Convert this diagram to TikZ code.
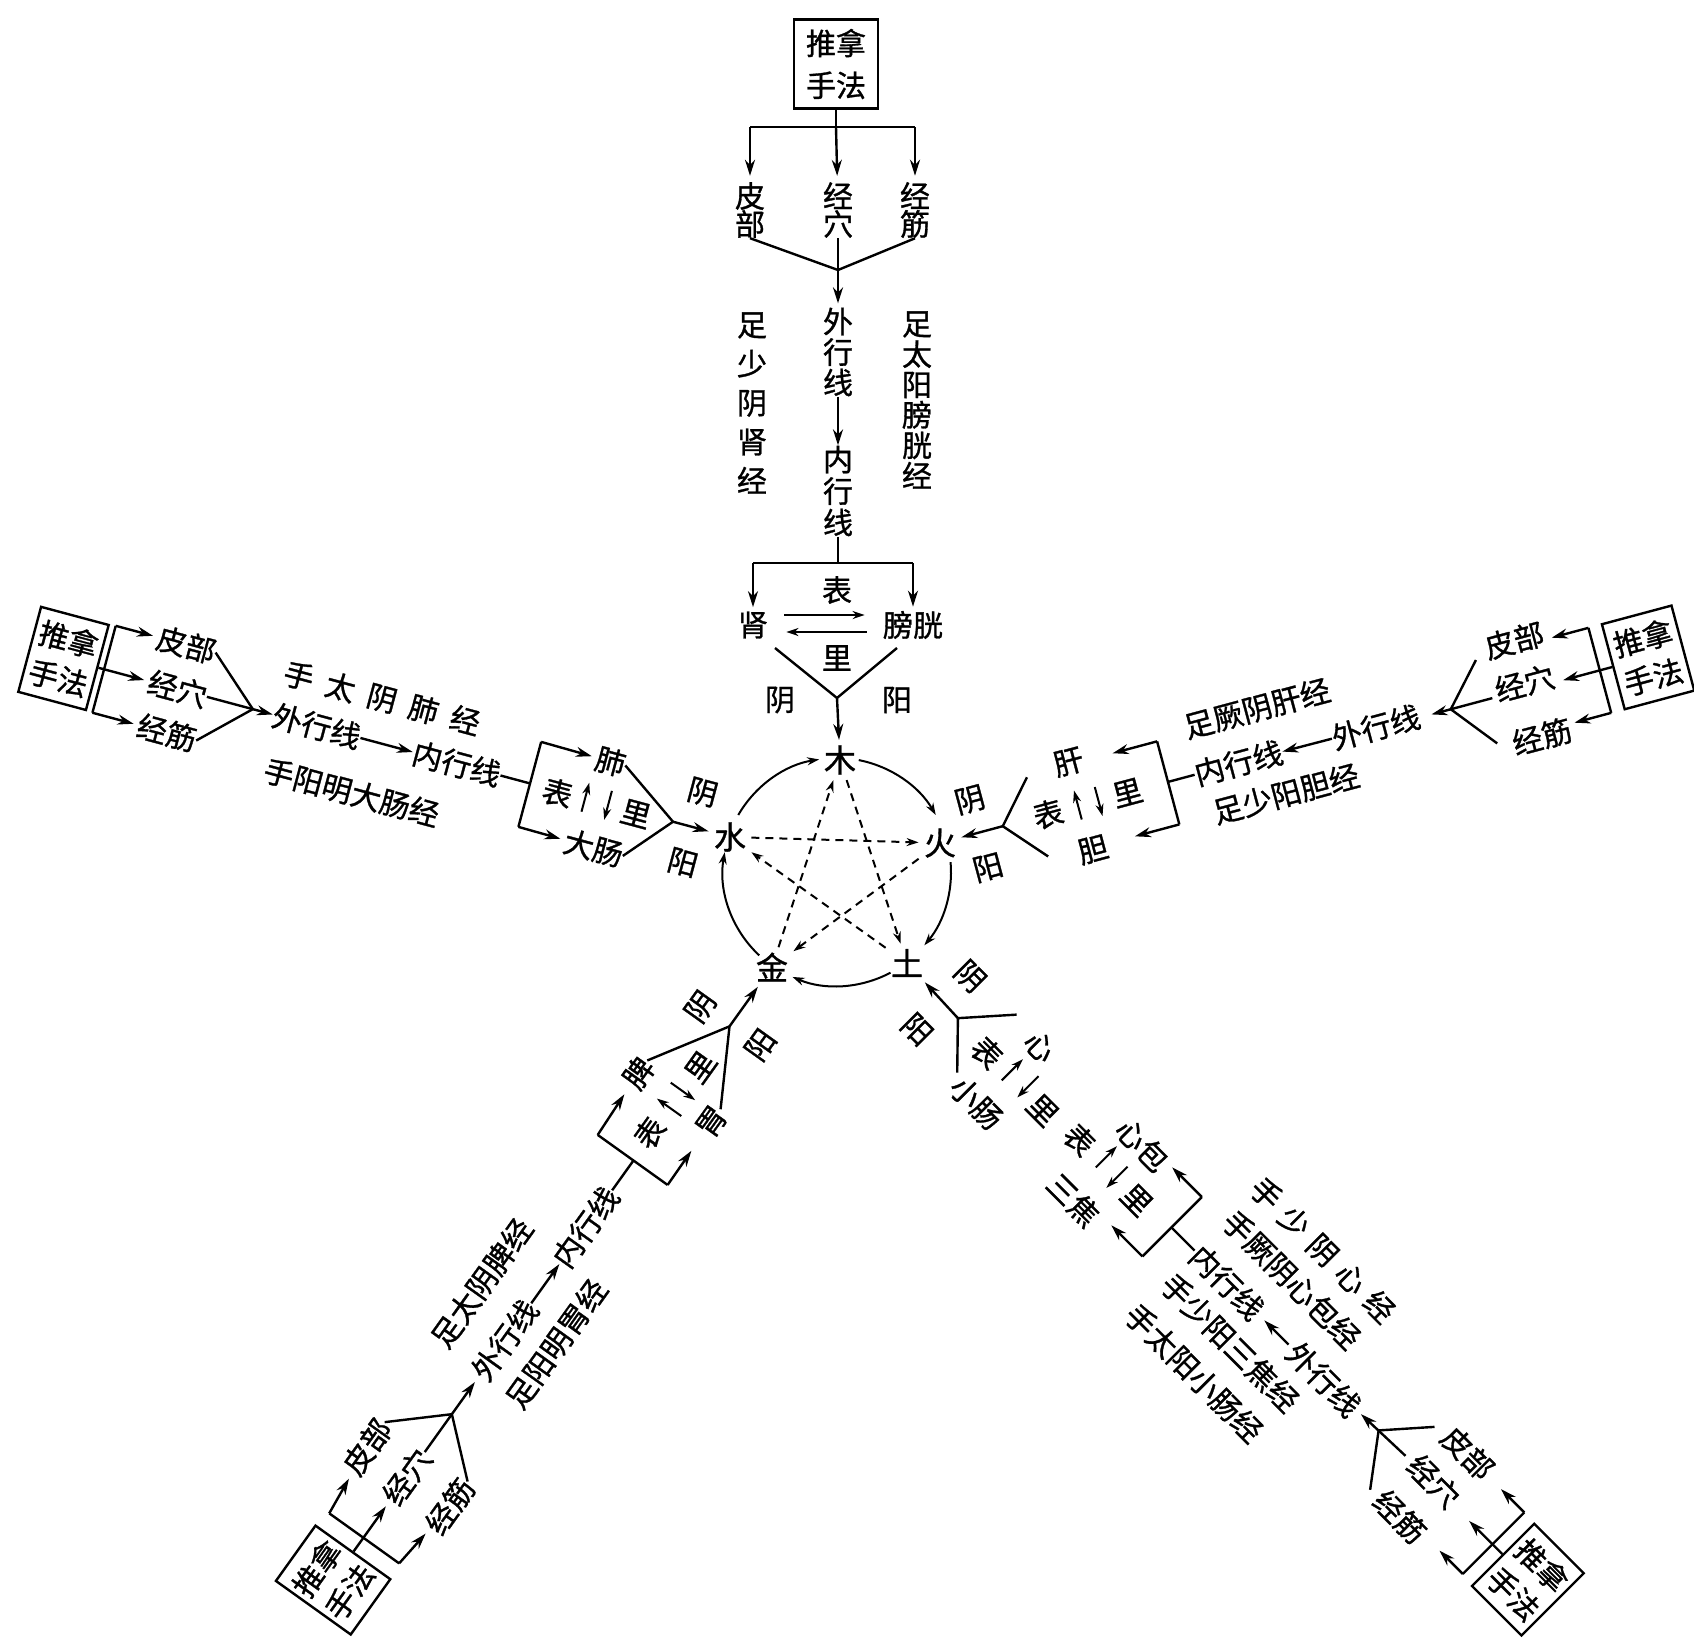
\documentclass[tikz,border=0pt]{standalone}
\usepackage{fontspec}
\newfontfamily\cjk[FakeBold=1]{Noto Sans CJK SC}
\usetikzlibrary{arrows.meta}
\begin{document}
\begin{tikzpicture}[x=0.5pt,y=0.5pt,
  every node/.style={inner sep=0pt,font=\cjk\fontsize{15}{15}\selectfont},
  ln/.style={line width=1.2pt},
  arr/.style={line width=1.2pt,-{Stealth[length=8pt,width=5pt]}},
  sarr/.style={line width=1pt,-{Stealth[length=6pt,width=4pt]}},
  dsh/.style={line width=1pt,dash pattern=on 4pt off 3pt,-{Stealth[length=6pt,width=4pt]}},
  sbox/.style={draw,line width=1.2pt,minimum width=35pt,minimum height=44pt,align=center,font=\cjk\fontsize{15}{20}\selectfont},
  el/.style={inner sep=2.5pt,font=\cjk\fontsize{16}{16}\selectfont},
  vt/.style={align=center,font=\cjk\fontsize{15}{14}\selectfont},
]
\useasboundingbox (0,0) rectangle (1694,-1639);

% ---------- centre: five elements ----------
\coordinate (C) at (837,-872);
\node[el] (mu) at (840,-760) {木};
\node[el] (huo) at (940,-843) {火};
\node[el] (tu) at (907,-963) {土};
\node[el] (jin) at (772,-967) {金};
\node[el] (shui) at (730,-837) {水};
\draw[sarr] (C) ++(150:114) arc[start angle=150,end angle=99,radius=114];
\draw[sarr] (C) ++(79:114) arc[start angle=79,end angle=30,radius=114];
\draw[sarr] (C) ++(5:114) arc[start angle=5,end angle=-40,radius=114];
\draw[sarr] (C) ++(-62:114) arc[start angle=-62,end angle=-113,radius=114];
\draw[sarr] (C) ++(-133:114) arc[start angle=-133,end angle=-190,radius=114];
\draw[dsh] (mu) -- (tu);
\draw[dsh] (tu) -- (shui);
\draw[dsh] (shui) -- (huo);
\draw[dsh] (huo) -- (jin);
\draw[dsh] (jin) -- (mu);

% ---------- top arm ----------
\node[sbox,minimum width=42pt,minimum height=44.5pt,font=\cjk\fontsize{15}{21}\selectfont] (tbox) at (836,-64) {推拿\\手法};
\coordinate (tstem) at (836,-127);
\coordinate (tbl) at (750,-127);
\coordinate (tbr) at (915,-127);
\draw[ln] (tbox.south) -- (tstem);
\draw[ln] (tbl) -- (tbr);
\node[vt] (tpb) at (750,-210) {皮\\部};
\node[vt] (tjx) at (838,-210) {经\\穴};
\node[vt] (tjj) at (915,-210) {经\\筋};
\draw[arr,shorten >=3pt] (tbl) -- (tpb);
\draw[arr,shorten >=3pt] (tstem) -- (tjx);
\draw[arr,shorten >=3pt] (tbr) -- (tjj);
\coordinate (tcv) at (838,-270);
\draw[ln] (tpb.south) -- (tcv) -- (tjj.south);
\node[vt,font=\cjk\fontsize{15}{15.25}\selectfont] (twai) at (838,-352) {外\\行\\线};
\node[vt,font=\cjk\fontsize{15}{15.75}\selectfont] (tnei) at (838,-491) {内\\行\\线};
\draw[arr,shorten >=2pt] (tjx) -- (twai);
\draw[arr] (twai) -- (tnei);
\node[vt,font=\cjk\fontsize{15}{19.5}\selectfont] (tm1) at (752,-403) {足\\少\\阴\\肾\\经};
\node[vt,font=\cjk\fontsize{15}{15.2}\selectfont] (tm2) at (917,-400) {足\\太\\阳\\膀\\胱\\经};
\coordinate (tsp) at (838,-563);
\coordinate (tsl) at (753,-563);
\coordinate (tsr) at (913,-563);
\draw[ln] (tnei) -- (tsp);
\draw[ln] (tsl) -- (tsr);
\node (tshen) at (753,-625) {肾};
\node (tpg) at (913,-625) {膀胱};
\draw[arr,shorten >=2pt] (tsl) -- (tshen);
\draw[arr,shorten >=2pt] (tsr) -- (tpg);
\node (tbiao) at (837,-590) {表};
\node (tli) at (837,-658) {里};
\draw[sarr,shorten <=8pt,shorten >=9pt] ([yshift=5pt]tshen.east) -- ([yshift=5pt]tpg.west);
\draw[sarr,shorten <=8pt,shorten >=9pt] ([yshift=-3.5pt]tpg.west) -- ([yshift=-3.5pt]tshen.east);
\coordinate (tv1) at (775,-648);
\coordinate (tv2) at (897,-648);
\coordinate (tva) at (837,-698);
\draw[ln] (tv1) -- (tva) -- (tv2);
\draw[arr] (tva) -- (mu);
\node (tyin) at (780,-700) {阴};
\node (tyang) at (897,-700) {阳};

% ---------- left arm (water) ----------
\begin{scope}[shift={(730,-837)},rotate=-15,transform shape]
\node[sbox] (Lbox) at (-690,0) {推拿\\手法};
\coordinate (Lb1) at (-648,45);
\coordinate (Lb0) at (-648,0);
\coordinate (Lb2) at (-648,-45);
\draw[ln] (Lb1) -- (Lb2);
\draw[ln] (Lbox.east) -- (Lb0);
\node (Lpb) at (-575,45) {皮部};
\node (Ljx) at (-572,0) {经穴};
\node (Ljj) at (-571,-45) {经筋};
\draw[arr,shorten >=2pt] (Lb1) -- (Lpb);
\draw[arr,shorten >=2pt] (Lb0) -- (Ljx);
\draw[arr,shorten >=2pt] (Lb2) -- (Ljj);
\coordinate (Lcv) at (-494,0);
\node (Lwai) at (-428,0) {外行线};
\node (Lnei) at (-283,0) {内行线};
\draw[ln] (Lpb.east) -- (Lcv) -- (Ljj.east);
\draw[arr] (Ljx) -- (Lwai);
\draw[arr] (Lwai) -- (Lnei);
\node (Lm1) at (-372,44) {手\hspace{6.5pt}太\hspace{6.5pt}阴\hspace{6.5pt}肺\hspace{6.5pt}经};
\node (Lm2) at (-377,-55) {手阳明大肠经};
\coordinate (Lk0) at (-207,0);
\coordinate (Lk1) at (-207,43);
\coordinate (Lk2) at (-207,-45);
\draw[ln] (Lnei) -- (Lk0);
\draw[ln] (Lk1) -- (Lk2);
\node (Lfei) at (-135,42) {肺};
\node (Ldc) at (-129,-46) {大肠};
\draw[arr,shorten >=2pt] (Lk1) -- (Lfei);
\draw[arr,shorten >=2pt] (Lk2) -- (Ldc);
\node (Lbiao) at (-178,-2) {表};
\node (Lli) at (-97,-2) {里};
\coordinate (Lu1) at (-150,-14); \coordinate (Lu2) at (-150,16);
\coordinate (Ld1) at (-126,14); \coordinate (Ld2) at (-126,-16);
\draw[sarr] (Lu1) -- (Lu2);
\draw[sarr] (Ld1) -- (Ld2);
\coordinate (Lv) at (-59,0);
\draw[ln] (Lfei.east) -- (Lv) -- (Ldc.east);
\draw[arr] (Lv) -- (shui);
\node (Lyin) at (-38,36) {阴};
\node (Lyang) at (-39,-37) {阳};
\end{scope}

% ---------- right arm (fire) ----------
\begin{scope}[shift={(940,-843)},rotate=15,transform shape]
\node[sbox,minimum width=36pt] (Rbox) at (732,-4) {推拿\\手法};
\coordinate (Rb1) at (682,40);
\coordinate (Rb0) at (682,-4);
\coordinate (Rb2) at (682,-48);
\draw[ln] (Rb1) -- (Rb2);
\draw[ln] (Rbox.west) -- (Rb0);
\node (Rpb) at (607,47) {皮部};
\node (Rjx) at (606,3) {经穴};
\node (Rjj) at (609,-53) {经筋};
\coordinate (Rt3) at (644,40);
\coordinate (Rt4) at (644,-4);
\coordinate (Rt5) at (644,-48);
\draw[arr] (Rb1) -- (Rt3);
\draw[arr] (Rb0) -- (Rt4);
\draw[arr] (Rb2) -- (Rt5);
\coordinate (Rcv) at (528,-3);
\coordinate (Rc1) at (565,38);
\coordinate (Rc0) at (571,-3);
\coordinate (Rc2) at (564,-48);
\coordinate (Rct) at (508,-3);
\draw[ln] (Rc1) -- (Rcv) -- (Rc2);
\draw[arr] (Rc0) -- (Rct);
\node (Rwai) at (451,-1) {外行线};
\node (Rnei) at (309,0) {内行线};
\draw[arr] (Rwai) -- (Rnei);
\node (Rm1) at (341,48) {足厥阴肝经};
\node (Rm2) at (347,-42) {足少阳胆经};
\coordinate (Rk0) at (236,0);
\coordinate (Rk1) at (236,42);
\coordinate (Rk2) at (236,-44);
\coordinate (Rt1) at (190,42);
\coordinate (Rt2) at (190,-44);
\draw[ln] (Rnei) -- (Rk0);
\draw[ln] (Rk1) -- (Rk2);
\draw[arr] (Rk1) -- (Rt1);
\draw[arr] (Rk2) -- (Rt2);
\node (Rgan) at (145,45) {肝};
\node (Rdan) at (146,-46) {胆};
\node (Rbiao) at (112,0) {表};
\node (Rli) at (194,0) {里};
\coordinate (Ru1) at (143,-14); \coordinate (Ru2) at (143,16);
\coordinate (Rd1) at (164,14); \coordinate (Rd2) at (164,-16);
\draw[sarr] (Ru1) -- (Ru2);
\draw[sarr] (Rd1) -- (Rd2);
\coordinate (Rv) at (65,0);
\coordinate (Rv1) at (101,41);
\coordinate (Rv2) at (101,-41);
\draw[ln] (Rv1) -- (Rv) -- (Rv2);
\draw[arr] (Rv) -- (huo);
\node (Ryin) at (40,34) {阴};
\node (Ryang) at (40,-36) {阳};
\end{scope}

% ---------- lower-left arm (metal) ----------
\begin{scope}[shift={(772,-967)},rotate=54.4,transform shape]
\node[sbox,minimum width=34pt,minimum height=46pt] (Gbox) at (-754,0) {推拿\\手法};
\coordinate (Gb1) at (-702,42);
\coordinate (Gb0) at (-702,0);
\coordinate (Gb2) at (-702,-44);
\draw[ln] (Gb1) -- (Gb2);
\draw[ln] (Gbox.east) -- (Gb0);
\node (Gpb) at (-626,50) {皮部};
\node (Gjx) at (-627,0) {经穴};
\node (Gjj) at (-626,-52) {经筋};
\draw[arr,shorten >=3pt] (Gb1) -- (Gpb);
\draw[arr,shorten >=3pt] (Gb0) -- (Gjx);
\draw[arr,shorten >=3pt] (Gb2) -- (Gjj);
\coordinate (Gcv) at (-550,0);
\node (Gwai) at (-459,0) {外行线};
\node (Gnei) at (-320,0) {内行线};
\draw[ln] (Gpb.east) -- (Gcv) -- (Gjj.east);
\draw[arr,shorten >=3pt] (Gjx) -- (Gwai);
\draw[arr] (Gwai) -- (Gnei);
\node (Gm1) at (-426,52) {足太阴脾经};
\node (Gm2) at (-432,-44) {足阳明胃经};
\coordinate (Gk0) at (-238,0);
\coordinate (Gk1) at (-238,44);
\coordinate (Gk2) at (-238,-42);
\draw[ln] (Gnei) -- (Gk0);
\draw[ln] (Gk1) -- (Gk2);
\node (Gpi) at (-164,47) {脾};
\node (Gwei) at (-161,-41) {胃};
\draw[arr,shorten >=5pt] (Gk1) -- (Gpi);
\draw[arr,shorten >=10pt] (Gk2) -- (Gwei);
\node (Gbiao) at (-206,3) {表};
\node (Gli) at (-123,0) {里};
\coordinate (Gu1) at (-174,-13); \coordinate (Gu2) at (-174,17);
\coordinate (Gd1) at (-153,15); \coordinate (Gd2) at (-153,-15);
\draw[sarr] (Gu1) -- (Gu2);
\draw[sarr] (Gd1) -- (Gd2);
\coordinate (Gv) at (-73,0);
\draw[ln] (Gpi.east) -- (Gv) -- (Gwei.east);
\draw[arr] (Gv) -- (jin);
\node (Gyin) at (-74,35) {阴};
\node (Gyang) at (-70,-36) {阳};
\end{scope}

% ---------- lower-right arm (earth) ----------
\begin{scope}[shift={(907,-963)},rotate=-45,transform shape]
\node[sbox] (Tbox) at (875,3) {推拿\\手法};
\coordinate (Tb1) at (825,48);
\coordinate (Tb0) at (825,3);
\coordinate (Tb2) at (825,-39);
\draw[ln] (Tb1) -- (Tb2);
\draw[ln] (Tbox.west) -- (Tb0);
\node (Tpb) at (743,50) {皮部};
\node (Tjx) at (739,6) {经穴};
\node (Tjj) at (740,-43) {经筋};
\coordinate (Tt1) at (792,48);
\coordinate (Tt0) at (792,3);
\coordinate (Tt2) at (792,-39);
\draw[arr] (Tb1) -- (Tt1);
\draw[arr] (Tb0) -- (Tt0);
\draw[arr] (Tb2) -- (Tt2);
\coordinate (Tcv) at (664,3);
\coordinate (Tc1) at (701,45);
\coordinate (Tc0) at (701,4);
\coordinate (Tc2) at (700,-45);
\coordinate (Tct) at (640,2);
\draw[ln] (Tc1) -- (Tcv) -- (Tc2);
\draw[arr] (Tc0) -- (Tct);
\node (Twai) at (589,0) {外行线};
\node (Tnei) at (452,0) {内行线};
\draw[arr,shorten <=2pt,shorten >=4pt] (Twai) -- (Tnei);
\node (Tm1) at (497,91) {手\hspace{5pt}少\hspace{5pt}阴\hspace{5pt}心\hspace{5pt}经};
\node (Tm2) at (496,48) {手厥阴心包经};
\node (Tm3) at (497,-40) {手少阳三焦经};
\node (Tm4) at (493,-87) {手太阳小肠经};
\coordinate (Tk0) at (374,0);
\coordinate (Tk1) at (374,43);
\coordinate (Tk2) at (374,-41);
\coordinate (Tt3) at (332,43);
\coordinate (Tt4) at (330,-41);
\draw[ln] (Tnei) -- (Tk0);
\draw[ln] (Tk1) -- (Tk2);
\draw[arr] (Tk1) -- (Tt3);
\draw[arr] (Tk2) -- (Tt4);
\node (Txb) at (295,38) {心包};
\node (Tsj) at (285,-50) {三焦};
\node (Tbiao2) at (247,-3) {表};
\node (Tli2) at (330,-5) {里};
\coordinate (Tu3) at (278,-11); \coordinate (Tu4) at (278,19);
\coordinate (Td3) at (300,12); \coordinate (Td4) at (300,-18);
\draw[sarr] (Tu3) -- (Tu4);
\draw[sarr] (Td3) -- (Td4);
\node (Txin) at (153,35) {心};
\node (Txc) at (148,-50) {小肠};
\node (Tbiao) at (120,-7) {表};
\node (Tli) at (200,-8) {里};
\coordinate (Tu1) at (150,-16); \coordinate (Tu2) at (150,14);
\coordinate (Td1) at (173,13); \coordinate (Td2) at (173,-17);
\draw[sarr] (Tu1) -- (Tu2);
\draw[sarr] (Td1) -- (Td2);
\coordinate (Tv) at (75,-3);
\coordinate (Tv1) at (114,41);
\coordinate (Tv2) at (113,-42);
\draw[ln] (Tv1) -- (Tv) -- (Tv2);
\draw[arr] (Tv) -- (tu);
\node (Tyin) at (54,35) {阴};
\node (Tyang) at (54,-40) {阳};
\end{scope}
\end{tikzpicture}
\end{document}
